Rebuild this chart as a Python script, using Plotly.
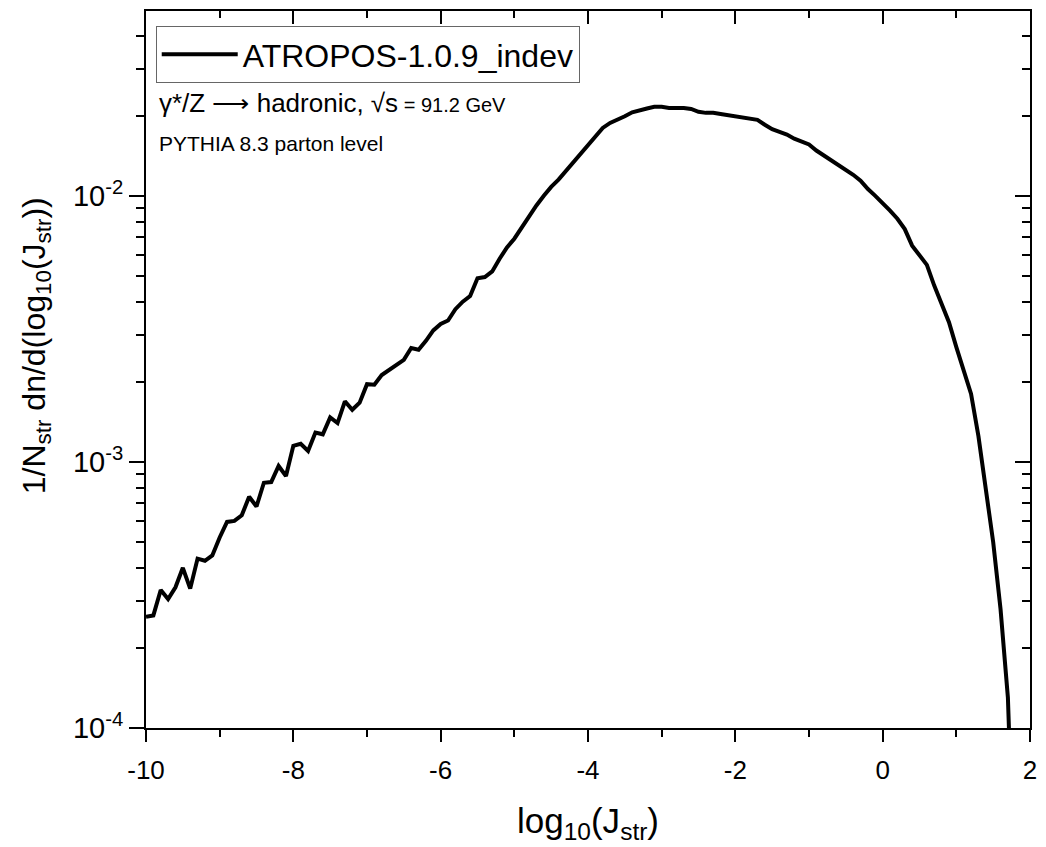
import numpy as np
import plotly.graph_objects as go

# Bin centres of log10(J_str)
x_vals = np.round(np.arange(-10.0, 1.81, 0.1), 2)

# 1/N_str dn/d(log10 J_str)
y_vals = [
    2.62e-4, 2.65e-4, 3.30e-4, 3.05e-4, 3.38e-4, 4.00e-4, 3.34e-4, 4.33e-4, 4.25e-4, 4.45e-4,   # -10.0 .. -9.1
    5.20e-4, 5.95e-4, 6.00e-4, 6.30e-4, 7.40e-4, 6.80e-4, 8.35e-4, 8.40e-4, 9.65e-4, 8.85e-4,   # -9.0 .. -8.1
    1.15e-3, 1.17e-3, 1.10e-3, 1.29e-3, 1.27e-3, 1.47e-3, 1.40e-3, 1.69e-3, 1.57e-3, 1.67e-3,   # -8.0 .. -7.1
    1.96e-3, 1.95e-3, 2.12e-3, 2.22e-3, 2.32e-3, 2.42e-3, 2.68e-3, 2.64e-3, 2.85e-3, 3.12e-3,   # -7.0 .. -6.1
    3.30e-3, 3.40e-3, 3.75e-3, 4.00e-3, 4.20e-3, 4.90e-3, 4.95e-3, 5.20e-3, 5.80e-3, 6.40e-3,   # -6.0 .. -5.1
    6.90e-3, 7.60e-3, 8.40e-3, 9.20e-3, 1.00e-2, 1.08e-2, 1.15e-2, 1.24e-2, 1.33e-2, 1.44e-2,   # -5.0 .. -4.1
    1.55e-2, 1.68e-2, 1.80e-2, 1.88e-2, 1.93e-2, 1.99e-2, 2.06e-2, 2.10e-2, 2.13e-2, 2.16e-2,   # -4.0 .. -3.1
    2.16e-2, 2.14e-2, 2.14e-2, 2.14e-2, 2.12e-2, 2.07e-2, 2.05e-2, 2.05e-2, 2.03e-2, 2.01e-2,   # -3.0 .. -2.1
    1.99e-2, 1.98e-2, 1.96e-2, 1.93e-2, 1.85e-2, 1.78e-2, 1.74e-2, 1.70e-2, 1.64e-2, 1.60e-2,   # -2.0 .. -1.1
    1.56e-2, 1.48e-2, 1.42e-2, 1.37e-2, 1.31e-2, 1.26e-2, 1.20e-2, 1.14e-2, 1.06e-2, 1.00e-2,   # -1.0 .. -0.1
    9.40e-3, 8.80e-3, 8.20e-3, 7.50e-3, 6.50e-3, 6.00e-3, 5.50e-3, 4.60e-3, 3.95e-3, 3.35e-3,   # 0.0 .. 0.9
    2.70e-3, 2.20e-3, 1.80e-3, 1.25e-3, 8.00e-4, 5.00e-4, 2.80e-4, 1.30e-4, 2.00e-5,            # 1.0 .. 1.8
]

series_name = "ATROPOS-1.0.9_indev"
x_ticks = [-10, -8, -6, -4, -2, 0, 2]
x_minor = [-9, -7, -5, -3, -1, 1]
y_ticks = [1e-4, 1e-3, 1e-2]
y_ticktext = ["10<sup>-4</sup>", "10<sup>-3</sup>", "10<sup>-2</sup>"]
y_minor = [m * d for d in (1e-4, 1e-3, 1e-2) for m in range(2, 10) if m * d <= 0.05]

x_range = [-10, 2]
y_range = [-4, np.log10(0.0495)]

FONT = "Liberation Sans, Arial, sans-serif"

fig = go.Figure()
fig.add_trace(go.Scatter(
    x=x_vals, y=y_vals, mode="lines", name=series_name,
    line=dict(color="black", width=4),
))

axis_common = dict(showgrid=False, zeroline=False, linecolor="black", linewidth=2,
                   tickcolor="black", tickwidth=2)

fig.update_layout(
    width=1046, height=847,
    margin=dict(l=146, r=9, t=9, b=119),
    paper_bgcolor="white", plot_bgcolor="white",
    font=dict(family=FONT, color="black"),
    showlegend=True,
    legend=dict(
        x=0.011, y=0.979, xanchor="left", yanchor="top",
        bgcolor="white", bordercolor="#666666", borderwidth=1,
        font=dict(size=32, family=FONT), itemwidth=76,
        tracegroupgap=0,
    ),
    xaxis=dict(
        **axis_common, range=x_range, showline=True, mirror=True,
        tickmode="array", tickvals=x_ticks, ticktext=[str(v) for v in x_ticks],
        ticks="outside", ticklen=12, ticklabelstandoff=6,
        minor=dict(tickmode="array", tickvals=x_minor, ticks="outside", ticklen=7,
                   tickwidth=2, tickcolor="black"),
        tickfont=dict(size=26, family=FONT),
        title=dict(text="log<sub>10</sub>(J<sub>str</sub>)", font=dict(size=35, family=FONT), standoff=24),
    ),
    yaxis=dict(
        **axis_common, type="log", range=y_range, showline=True, mirror=True,
        tickmode="array", tickvals=y_ticks, ticktext=y_ticktext,
        ticks="outside", ticklen=15,
        minor=dict(tickmode="array", tickvals=y_minor, ticks="outside", ticklen=8,
                   tickwidth=2, tickcolor="black"),
        tickfont=dict(size=29, family=FONT),
    ),
    xaxis2=dict(
        **axis_common, overlaying="x", side="top", range=x_range, showline=False,
        tickmode="array", tickvals=x_ticks, showticklabels=False,
        ticks="inside", ticklen=13,
        minor=dict(tickmode="array", tickvals=x_minor, ticks="inside", ticklen=7,
                   tickwidth=2, tickcolor="black"),
    ),
    yaxis2=dict(
        **axis_common, overlaying="y", side="right", type="log", range=y_range, showline=False,
        tickmode="array", tickvals=y_ticks, showticklabels=False,
        ticks="inside", ticklen=15,
        minor=dict(tickmode="array", tickvals=y_minor, ticks="inside", ticklen=8,
                   tickwidth=2, tickcolor="black"),
    ),
)

# invisible helper trace so the mirrored tick axes are drawn
fig.add_trace(go.Scatter(x=[x_range[0]], y=[1e-4], xaxis="x2", yaxis="y2", mode="lines",
                         showlegend=False, hoverinfo="skip", line=dict(width=0)))

# y-axis title (placed as annotation to match its offset position)
fig.add_annotation(
    xref="paper", yref="paper", x=-0.124, y=0.533, xanchor="center", yanchor="middle",
    showarrow=False, textangle=-90,
    text="1/N<sub>str</sub> dn/d(log<sub>10</sub>(J<sub>str</sub>))",
    font=dict(size=32, family=FONT, color="black"),
)
fig.add_annotation(
    xref="paper", yref="paper", x=0.012, y=0.871, xanchor="left", yanchor="middle",
    showarrow=False, align="left",
    text="γ*/Z ⟶ hadronic, √s<span style='font-size:20px'> = 91.2 GeV</span>",
    font=dict(size=26, family=FONT, color="black"),
)
fig.add_annotation(
    xref="paper", yref="paper", x=0.012, y=0.815, xanchor="left", yanchor="middle",
    showarrow=False, align="left",
    text="PYTHIA 8.3 parton level",
    font=dict(size=21, family=FONT, color="black"),
)

fig.write_html("out.html")
